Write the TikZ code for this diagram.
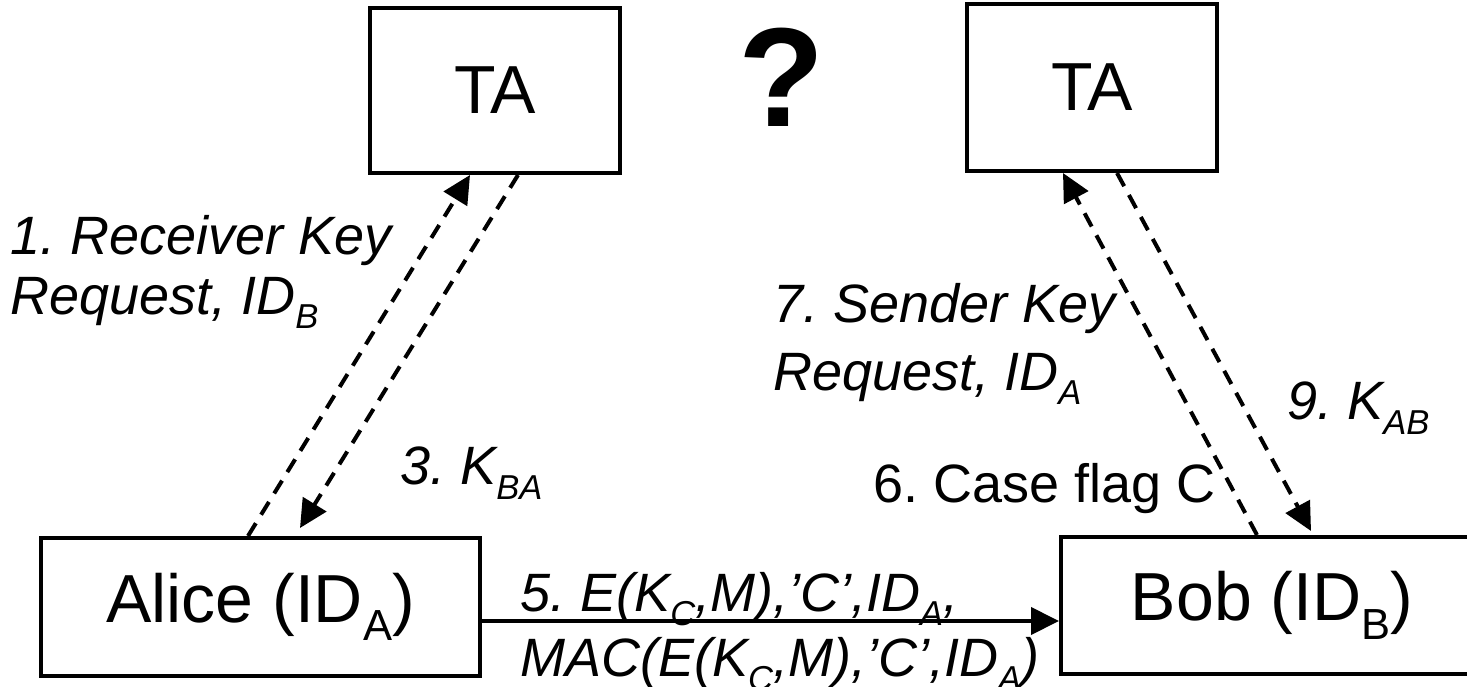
\documentclass[tikz,border=0pt]{standalone}
\usepackage{fontspec}
\setmainfont{Liberation Sans}
\usepackage{graphicx}
\usetikzlibrary{arrows.meta,calc}
% lowered, reduced subscript in the style of the slide text
\newcommand\lowsub[1]{\raisebox{-0.27em}{\scalebox{0.64}{#1}}}
\frenchspacing

\begin{document}
\begin{tikzpicture}[x=1pt,y=-1pt,
  box/.style={draw,line width=4pt,inner sep=0pt,font=\fontsize{68}{80}\selectfont},
  msg/.style={line width=4pt,-{Triangle[length=28pt,width=27pt]}},
  dsh/.style={dash pattern=on 15pt off 10pt},
  lbl/.style={anchor=north west,inner sep=0pt,align=left,font=\fontsize{54}{60}\selectfont\itshape},
  lblup/.style={anchor=north west,inner sep=0pt,align=left,font=\fontsize{54}{60}\selectfont}]
\useasboundingbox (0,0) rectangle (1467,687);
\clip (0,0) rectangle (1467,687);

% parties and trusted authorities
\node[box,minimum width=250pt,minimum height=165pt] (ta1) at (495,90.5) {TA};
\node[box,minimum width=250pt,minimum height=167pt] (ta2) at (1092,87.5) {TA};
\node[box,minimum width=439pt,minimum height=138pt] (alice) at (260.5,607) {Alice (ID\lowsub{A})};
\node[box,minimum width=422pt,minimum height=137pt] (bob) at (1272,605.5) {Bob (ID\lowsub{B})};

\node[font=\fontsize{141}{169}\selectfont\bfseries] (q) at (782,77) {?};

% key requests and replies
\draw[msg,dsh] ([xshift=-12.5pt]alice.north) -- ([xshift=-25pt]ta1.south);
\draw[msg,dsh] ([xshift=23pt]ta1.south) -- ([xshift=39.5pt,yshift=8pt]alice.north);
\draw[msg,dsh] ([xshift=-15pt]bob.north) -- ([xshift=-29pt]ta2.south);
\draw[msg,dsh] ([xshift=25pt]ta2.south) -- ([xshift=39pt,yshift=4pt]bob.north);
% message from Alice to Bob
\draw[msg] ([yshift=-14pt]alice.east) -- ([yshift=-15.5pt]bob.west);

% labels
\node[lbl] (l1) at (10,215) {1. Receiver Key\\Request, ID\lowsub{B}};
\node[lbl] (l3) at (400,447) {3. K\lowsub{BA}};
\node[lbl,font=\fontsize{54}{68}\selectfont\itshape] (l7) at (773,283) {7. Sender Key\\Request, ID\lowsub{A}};
\node[lbl] (l9) at (1287,382) {9. K\lowsub{AB}};
\node[lblup] (l6) at (873,463) {6. Case flag C};
\node[lbl,font=\fontsize{54}{65}\selectfont\itshape] (l5) at (520,572) {5. E(K\lowsub{C},M),’C’,ID\lowsub{A},\\MAC(E(K\lowsub{C},M),’C’,ID\lowsub{A})};
\end{tikzpicture}
\end{document}
